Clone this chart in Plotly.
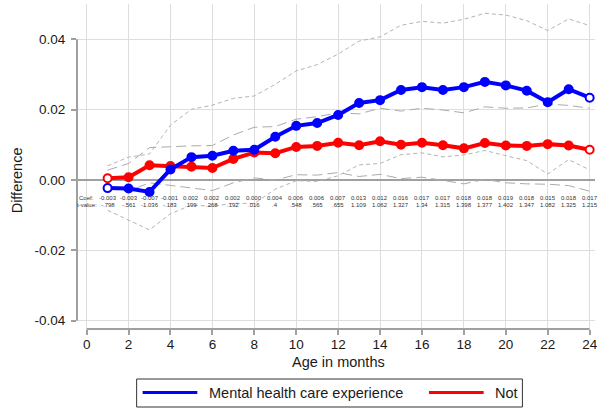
import plotly.graph_objects as go

# Age in months
months = list(range(1, 25))

# Mental health care experience group: point estimate and 95% CI bounds
mh_est = [-0.0023, -0.0024, -0.0034, 0.0030, 0.0065, 0.0069, 0.0083, 0.0086,
          0.0123, 0.0154, 0.0162, 0.0185, 0.0219, 0.0227, 0.0256, 0.0264,
          0.0256, 0.0264, 0.0279, 0.0269, 0.0254, 0.0221, 0.0258, 0.0234]
mh_upper = [0.0040, 0.0065, 0.0074, 0.0156, 0.0201, 0.0213, 0.0232, 0.0239,
            0.0272, 0.0310, 0.0328, 0.0358, 0.0395, 0.0407, 0.0440, 0.0451,
            0.0446, 0.0457, 0.0474, 0.0469, 0.0453, 0.0425, 0.0458, 0.0439]
mh_lower = [-0.0086, -0.0113, -0.0142, -0.0096, -0.0071, -0.0075, -0.0066, -0.0067,
            -0.0026, -0.0002, -0.0004, 0.0012, 0.0043, 0.0047, 0.0072, 0.0077,
            0.0066, 0.0071, 0.0084, 0.0069, 0.0055, 0.0017, 0.0058, 0.0029]

# Comparison group ("Not"): point estimate and 95% CI bounds
not_est = [0.0005, 0.0008, 0.0042, 0.0040, 0.0038, 0.0034, 0.0060, 0.0078,
           0.0076, 0.0094, 0.0097, 0.0106, 0.0099, 0.0110, 0.0100, 0.0106,
           0.0099, 0.0090, 0.0105, 0.0098, 0.0097, 0.0102, 0.0098, 0.0086]
not_upper = [0.0028, 0.0047, 0.0092, 0.0095, 0.0097, 0.0098, 0.0128, 0.0150,
             0.0152, 0.0173, 0.0180, 0.0191, 0.0188, 0.0204, 0.0196, 0.0204,
             0.0199, 0.0191, 0.0208, 0.0204, 0.0205, 0.0216, 0.0212, 0.0204]
not_lower = [-0.0018, -0.0031, -0.0008, -0.0015, -0.0021, -0.0030, -0.0008, 0.0006,
             0.0000, 0.0015, 0.0014, 0.0021, 0.0010, 0.0016, 0.0004, 0.0008,
             -0.0001, -0.0011, 0.0002, -0.0008, -0.0011, -0.0012, -0.0016, -0.0032]

# Difference coefficients and t-values printed under each month
coef_labels = ["-0.003", "-0.003", "-0.007", "-0.001", "0.002", "0.002", "0.002", "0.000",
               "0.004", "0.006", "0.006", "0.007", "0.013", "0.012", "0.016", "0.017",
               "0.017", "0.018", "0.018", "0.019", "0.018", "0.015", "0.018", "0.017"]
tval_labels = ["-.798", "-.561", "-1.036", "-.183", ".199", ".268", ".192", ".016",
               ".4", ".548", ".565", ".655", "1.109", "1.062", "1.327", "1.34",
               "1.315", "1.398", "1.377", "1.402", "1.347", "1.082", "1.325", "1.215"]

x_ticks = list(range(0, 25, 2))
y_ticks = [-0.04, -0.02, 0.0, 0.02, 0.04]
y_tick_text = ["-0.04", "-0.02", "0.00", "0.02", "0.04"]

BLUE = "#0000ff"
RED = "#ff0000"
GRID = "#dedede"
AXIS = "#a0a0a0"
TXT = "#1a1a1a"
FONT = "Liberation Sans, Arial, sans-serif"

W, H = 600, 410
PL, PR, PT, PB = 77, 598, 4, 329  # plot area in pixels


def px_x(px):
    return (px - PL) / (PR - PL)


def px_y(py):
    return (PB - py) / (PB - PT)


fig = go.Figure()

# Confidence bands
fig.add_trace(go.Scatter(x=months, y=mh_upper, mode="lines",
                         line=dict(color="#b4b4b4", width=1, dash="4px,3px"),
                         showlegend=False, hoverinfo="skip"))
fig.add_trace(go.Scatter(x=months, y=mh_lower, mode="lines",
                         line=dict(color="#b4b4b4", width=1, dash="4px,3px"),
                         showlegend=False, hoverinfo="skip"))
fig.add_trace(go.Scatter(x=months, y=not_upper, mode="lines",
                         line=dict(color="#ababab", width=1, dash="10px,5px"),
                         showlegend=False, hoverinfo="skip"))
fig.add_trace(go.Scatter(x=months, y=not_lower, mode="lines",
                         line=dict(color="#ababab", width=1, dash="10px,5px"),
                         showlegend=False, hoverinfo="skip"))


def fills(color, n):
    return ["white"] + [color] * (n - 2) + ["white"]


fig.add_trace(go.Scatter(x=months, y=not_est, mode="lines+markers", name="Not",
                         line=dict(color=RED, width=4),
                         marker=dict(size=8, color=fills(RED, len(months)),
                                     line=dict(color=RED, width=2)),
                         showlegend=False))
fig.add_trace(go.Scatter(x=months, y=mh_est, mode="lines+markers",
                         name="Mental health care experience",
                         line=dict(color=BLUE, width=4),
                         marker=dict(size=8, color=fills(BLUE, len(months)),
                                     line=dict(color=BLUE, width=2)),
                         showlegend=False))

shapes = []
# y axis line spanning the labelled range
shapes.append(dict(type="line", xref="paper", yref="y", x0=0, x1=0,
                   y0=-0.04, y1=0.04, line=dict(color=AXIS, width=2)))
# x axis line spanning the labelled range
shapes.append(dict(type="line", xref="x", yref="paper", x0=0, x1=24,
                   y0=0, y1=0, line=dict(color=AXIS, width=2)))

small = dict(size=6, color="#333", family=FONT)
annotations = []
# coefficient / t-value rows
annotations.append(dict(x=0, y=px_y(197.5), xref="x", yref="paper", text="Coef:",
                        xanchor="center", yanchor="middle",
                        showarrow=False, font=small))
annotations.append(dict(x=0, y=px_y(204.5), xref="x", yref="paper", text="t-value:",
                        xanchor="center", yanchor="middle",
                        showarrow=False, font=small))
for m, c, t in zip(months, coef_labels, tval_labels):
    annotations.append(dict(x=m, y=px_y(197.5), xref="x", yref="paper", text=c,
                            xanchor="center", yanchor="middle",
                            showarrow=False, font=small))
    annotations.append(dict(x=m, y=px_y(204.5), xref="x", yref="paper", text=t,
                            xanchor="center", yanchor="middle",
                            showarrow=False, font=small))

# axis titles
annotations.append(dict(x=px_x(17), y=px_y(180), xref="paper", yref="paper",
                        xanchor="center", yanchor="middle",
                        text="Difference", textangle=-90, showarrow=False,
                        font=dict(size=14.5, color=TXT, family=FONT)))
annotations.append(dict(x=12, y=px_y(362), xref="x", yref="paper",
                        xanchor="center", yanchor="middle",
                        text="Age in months", showarrow=False,
                        font=dict(size=14.5, color=TXT, family=FONT)))

# legend box
shapes.append(dict(type="rect", xref="paper", yref="paper",
                   x0=px_x(137), x1=px_x(525), y0=px_y(379), y1=px_y(407),
                   line=dict(color="#333333", width=1), fillcolor="white"))
shapes.append(dict(type="line", xref="paper", yref="paper",
                   x0=px_x(143), x1=px_x(198), y0=px_y(392.5), y1=px_y(392.5),
                   line=dict(color=BLUE, width=3)))
shapes.append(dict(type="line", xref="paper", yref="paper",
                   x0=px_x(431), x1=px_x(486), y0=px_y(392.5), y1=px_y(392.5),
                   line=dict(color=RED, width=3)))
annotations.append(dict(x=px_x(208), y=px_y(392.5), xref="paper", yref="paper",
                        xanchor="left", yanchor="middle",
                        text="Mental health care experience", showarrow=False,
                        font=dict(size=14.5, color=TXT, family=FONT)))
annotations.append(dict(x=px_x(495), y=px_y(392.5), xref="paper", yref="paper",
                        xanchor="left", yanchor="middle",
                        text="Not", showarrow=False,
                        font=dict(size=14.5, color=TXT, family=FONT)))

x0_val = (PL - 86.7) / 21.08
x1_val = (PR - 86.7) / 21.08
y_top = (180 - PT) / 3517
y_bot = (180 - PB) / 3517

fig.update_layout(
    width=W, height=H,
    margin=dict(l=PL, r=W - PR, t=PT, b=H - PB, pad=0),
    paper_bgcolor="white", plot_bgcolor="white",
    font=dict(family=FONT, color=TXT, size=13.5),
    showlegend=False,
    shapes=shapes, annotations=annotations,
    xaxis=dict(range=[x0_val, x1_val], tickvals=x_ticks,
               ticktext=[str(v) for v in x_ticks],
               showgrid=True, gridcolor=GRID, gridwidth=1,
               zeroline=False, showline=False,
               ticks="outside", ticklen=5, tickwidth=1.5, tickcolor=AXIS,
               tickfont=dict(size=13.5, color=TXT, family=FONT),
               ticklabeloverflow="allow",
               ticklabelstandoff=-2),
    yaxis=dict(range=[y_bot, y_top], tickvals=y_ticks, ticktext=y_tick_text,
               showgrid=True, gridcolor=GRID, gridwidth=1,
               zeroline=True, zerolinecolor=AXIS, zerolinewidth=2,
               showline=False,
               ticks="outside", ticklen=5, tickwidth=1.5, tickcolor=AXIS,
               tickfont=dict(size=13.5, color=TXT, family=FONT),
               ticklabelstandoff=3),
)

fig.write_html("out.html")
